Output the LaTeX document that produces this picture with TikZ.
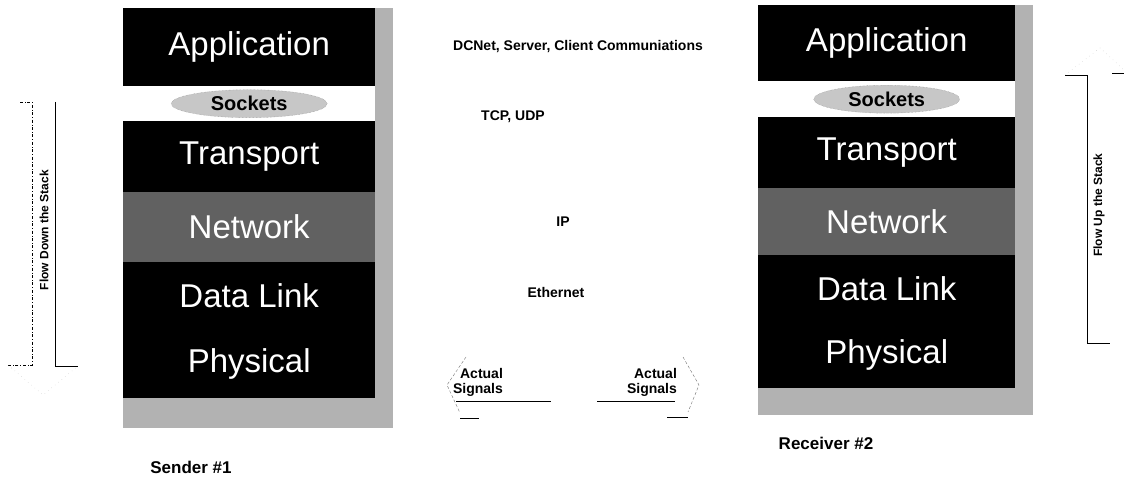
\documentclass[tikz,border=0pt]{standalone}
\usepackage{fontspec}
\setmainfont{Liberation Sans}
\usetikzlibrary{shapes.geometric}
\begin{document}
\begin{tikzpicture}[x=1pt,y=-1pt,
  layer/.style={anchor=north west,inner sep=0pt,fill=black,text=white,
    font=\fontsize{33}{35}\selectfont},
  netlayer/.style={layer,fill=black!62},
  gap/.style={anchor=north west,inner sep=0pt,fill=white},
  sock/.style={ellipse,fill=black!22,draw=black!45,densely dotted,inner sep=1pt,
    minimum width=156pt,minimum height=28pt,font=\fontsize{20}{22}\selectfont\bfseries},
  proto/.style={font=\fontsize{14}{16}\selectfont\bfseries},
  sig/.style={font=\fontsize{14}{15}\selectfont\bfseries,align=right},
  flow/.style={rotate=90,font=\fontsize{12}{14}\selectfont\bfseries},
  host/.style={font=\fontsize{17}{19}\selectfont\bfseries},
  shade/.style={fill=black!30},
  faint/.style={black!55,densely dashed,thin}]
\useasboundingbox (0,0) rectangle (1124,492);

% sender stack
\fill[shade] (123,8) rectangle (393,428);
\begin{scope}[every node/.append style={minimum width=252pt}]
  \node[layer,minimum height=78pt] (sApp) at (123,8) {Application};
  \node[gap,minimum height=35pt] (sGap) at (123,86) {};
  \node[layer,minimum height=71pt] (sTra) at (123,121) {Transport};
  \node[netlayer,minimum height=70pt] (sNet) at (123,192) {Network};
  \node[layer,minimum height=68pt] (sDat) at (123,262) {Data Link};
  \node[layer,minimum height=68pt] (sPhy) at (123,330) {Physical};
\end{scope}
\node[sock] (sSock) at (sGap.center) {Sockets};

% receiver stack
\fill[shade] (758,5) rectangle (1033,415);
\begin{scope}[every node/.append style={minimum width=257pt}]
  \node[layer,minimum height=76pt] (rApp) at (758,5) {Application};
  \node[gap,minimum height=36pt] (rGap) at (758,81) {};
  \node[layer,minimum height=71pt] (rTra) at (758,117) {Transport};
  \node[netlayer,minimum height=67pt] (rNet) at (758,188) {Network};
  \node[layer,minimum height=67pt] (rDat) at (758,255) {Data Link};
  \node[layer,minimum height=66pt] (rPhy) at (758,322) {Physical};
\end{scope}
\node[sock,minimum width=146pt] (rSock) at (rGap.center) {Sockets};

% what travels between them
\node[proto] (dcnet) at (578,47) {DCNet, Server, Client Communiations};
\node[proto] (tcp) at (513,117) {TCP, UDP};
\node[proto] (ip) at (563,222) {IP};
\node[proto] (eth) at (556,292) {Ethernet};

\node[sig] (sigL) at (478,382) {Actual\\Signals};
\node[sig] (sigR) at (652,382) {Actual\\Signals};
\draw (456,401) -- (551,401);
\draw (597,401) -- (675,401);
\draw[faint] (466,357) -- (447,385) -- (460,413);
\draw (460,418) -- (479,418);
\draw[faint] (683,357) -- (699,385) -- (688,412);
\draw (667,417) -- (688,417);

% flow arrows
\node[flow] (down) at (44,230) {Flow Down the Stack};
\draw[dash dot,thin] (20,102) -- (32,102) -- (32,365) -- (8,365);
\draw (55,102) -- (55,366) -- (78,366);
\draw[black!30,loosely dotted] (8,365) -- (43,395) -- (78,366);
\node[flow] (up) at (1099,205) {Flow Up the Stack};
\draw (1065,75) -- (1087,75) -- (1087,343) -- (1110,343);
\draw (1112,73) -- (1124,73);
\draw[black!30,loosely dotted] (1065,75) -- (1100,48) -- (1124,70);

\node[host] (snd) at (191,467) {Sender \#1};
\node[host] (rcv) at (826,443) {Receiver \#2};
\end{tikzpicture}
\end{document}
